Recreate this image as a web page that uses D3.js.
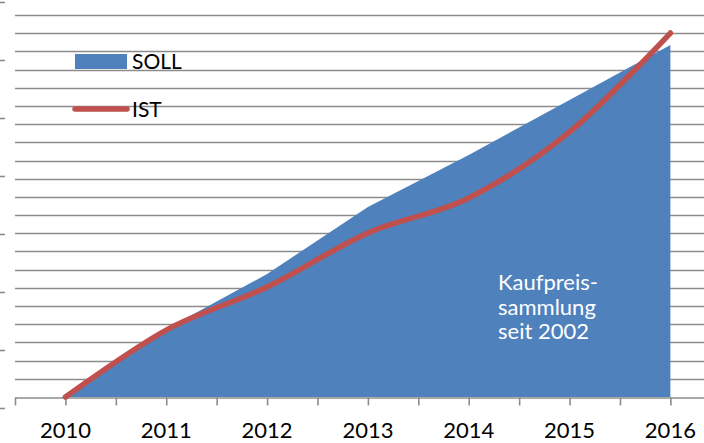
<!DOCTYPE html>
<html>
<head>
<script src="https://d3js.org/d3.v7.min.js"></script>
<style>
  body { margin: 0; background: #fff; }
  svg { display: block; font-family: Lato, "Open Sans", sans-serif; }
</style>
</head>
<body>
<svg id="chart" width="704" height="443"></svg>
<script>
// data (gridline step = 10 units)
const years = [2010, 2011, 2012, 2013, 2014, 2015, 2016];
const soll = [0, 37.4, 67.6, 104.5, 133, 163.3, 193.5];
const ist = [0, 36.8, 60.5, 90.2, 109.4, 145.7, 200.1];
const yearLabels = ["2010", "2011", "2012", "2013", "2014", "2015", "2016"];
const noteLines = ["Kaufpreis-", "sammlung", "seit 2002"];

const blue = "#4f81bd", red = "#c0504d", grid = "#8c8c8c";

const svg = d3.select("#chart");
const W = 704, H = 443;

const x = d3.scaleLinear([2009.5, 2016.5], [15, 720.8]);
const y = d3.scaleLinear([0, 210], [397, 15]);
// cropped secondary axis on the far left (only its ticks are visible)
const y2 = d3.scaleLinear([0, 7], [408, 2]);

// horizontal gridlines
svg.append("g")
  .selectAll("line")
  .data(d3.range(10, 211, 10))
  .join("line")
  .attr("x1", x(2009.5)).attr("x2", W)
  .attr("y1", d => Math.round(y(d)) + 0.5).attr("y2", d => Math.round(y(d)) + 0.5)
  .attr("stroke", grid).attr("stroke-width", 1.6);

// left tick marks
svg.append("g")
  .attr("transform", "translate(5,0)")
  .call(d3.axisLeft(y2).ticks(7).tickSize(5).tickFormat(""))
  .call(g => g.select(".domain").remove())
  .call(g => g.selectAll("line").attr("stroke", grid).attr("stroke-width", 1.6));

// SOLL area
const area = d3.area()
  .x((d, i) => x(years[i]))
  .y0(y(0))
  .y1(d => y(d));
svg.append("path")
  .datum(soll)
  .attr("d", area)
  .attr("fill", blue);

// x axis with half-year ticks
const xAxis = svg.append("g")
  .attr("transform", `translate(0,${Math.round(y(0)) + 0.5})`)
  .call(d3.axisBottom(x).tickValues(d3.range(2009.5, 2016.6, 0.5)).tickSize(8).tickSizeOuter(0).tickFormat(""));
xAxis.select(".domain").attr("stroke", grid).attr("stroke-width", 1.6);
xAxis.selectAll(".tick line").attr("stroke", grid).attr("stroke-width", 1.6);

svg.append("g")
  .selectAll("text")
  .data(years)
  .join("text")
  .attr("x", d => x(d))
  .attr("y", 438)
  .attr("text-anchor", "middle")
  .attr("font-size", 22)
  .attr("fill", "#000")
  .text((d, i) => yearLabels[i]);

// IST line
const line = d3.line()
  .x((d, i) => x(years[i]))
  .y(d => y(d))
  .curve(d3.curveCardinal.tension(0));
svg.append("path")
  .datum(ist)
  .attr("d", line)
  .attr("fill", "none")
  .attr("stroke", red)
  .attr("stroke-width", 5.5)
  .attr("stroke-linecap", "round");

// legend
const legend = svg.append("g");
legend.append("rect")
  .attr("x", 75).attr("y", 54).attr("width", 52).attr("height", 15)
  .attr("fill", blue);
legend.append("text")
  .attr("x", 132).attr("y", 69)
  .attr("font-size", 21).attr("fill", "#000")
  .text("SOLL");
legend.append("line")
  .attr("x1", 75).attr("x2", 127).attr("y1", 109).attr("y2", 109)
  .attr("stroke", red).attr("stroke-width", 5.5).attr("stroke-linecap", "round");
legend.append("text")
  .attr("x", 132).attr("y", 117)
  .attr("font-size", 21).attr("fill", "#000")
  .text("IST");

// annotation inside the area
svg.append("text")
  .attr("x", 498).attr("y", 290)
  .attr("font-size", 22).attr("fill", "#fff")
  .selectAll("tspan")
  .data(noteLines)
  .join("tspan")
  .attr("x", 498)
  .attr("dy", (d, i) => i === 0 ? 0 : 24.5)
  .text(d => d);
</script>
</body>
</html>
